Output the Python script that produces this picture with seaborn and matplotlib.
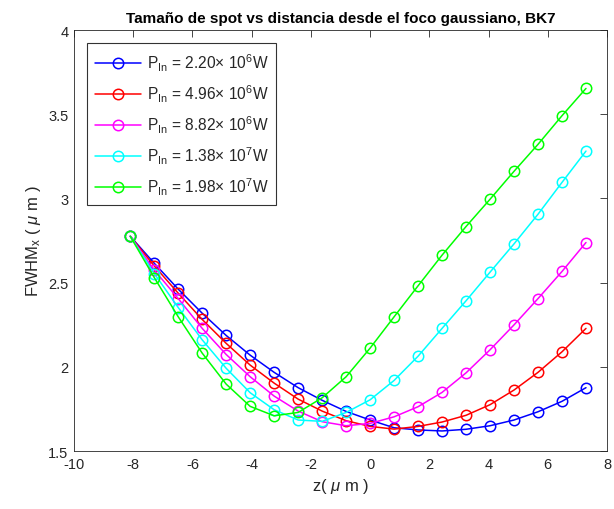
import numpy as np
import pandas as pd
import matplotlib
matplotlib.use("Agg")
import matplotlib.pyplot as plt
import seaborn as sns

z = [-8.1, -7.29, -6.48, -5.67, -4.86, -4.05, -3.24, -2.43, -1.62, -0.81,
     0.0, 0.81, 1.62, 2.43, 3.24, 4.05, 4.86, 5.67, 6.48, 7.29]

fwhm_p1 = [2.775, 2.615, 2.461, 2.318, 2.186, 2.069, 1.967, 1.876, 1.801, 1.735,
           1.684, 1.638, 1.625, 1.619, 1.629, 1.650, 1.684, 1.733, 1.795, 1.876]
fwhm_p2 = [2.775, 2.599, 2.437, 2.281, 2.139, 2.010, 1.903, 1.808, 1.737, 1.680,
           1.646, 1.630, 1.646, 1.672, 1.712, 1.775, 1.862, 1.967, 2.089, 2.228]
fwhm_p3 = [2.775, 2.575, 2.405, 2.228, 2.073, 1.941, 1.826, 1.737, 1.674, 1.650,
           1.664, 1.703, 1.763, 1.848, 1.964, 2.101, 2.249, 2.405, 2.566, 2.738]
fwhm_p4 = [2.775, 2.554, 2.352, 2.160, 1.991, 1.846, 1.745, 1.684, 1.676, 1.729,
           1.804, 1.919, 2.063, 2.228, 2.392, 2.562, 2.730, 2.906, 3.095, 3.281]
fwhm_p5 = [2.775, 2.530, 2.297, 2.081, 1.897, 1.765, 1.709, 1.729, 1.816, 1.941,
           2.111, 2.297, 2.481, 2.663, 2.833, 2.995, 3.161, 3.321, 3.491, 3.653]

labels = [r'P$_{\mathrm{In}}$ = 2.20$\times$ 10$^{6}$W',
          r'P$_{\mathrm{In}}$ = 4.96$\times$ 10$^{6}$W',
          r'P$_{\mathrm{In}}$ = 8.82$\times$ 10$^{6}$W',
          r'P$_{\mathrm{In}}$ = 1.38$\times$ 10$^{7}$W',
          r'P$_{\mathrm{In}}$ = 1.98$\times$ 10$^{7}$W']
colors = ['#0000ff', '#ff0000', '#ff00ff', '#00ffff', '#00ff00']
series = [fwhm_p1, fwhm_p2, fwhm_p3, fwhm_p4, fwhm_p5]

sns.set_style("white")
plt.rcParams['font.family'] = ['Liberation Sans', 'DejaVu Sans']
plt.rcParams['mathtext.fontset'] = 'custom'
plt.rcParams['mathtext.rm'] = 'Liberation Sans'
plt.rcParams['mathtext.it'] = 'Liberation Sans:italic'
plt.rcParams['axes.unicode_minus'] = False

fig = plt.figure(figsize=(6.14, 5.10), dpi=100)
ax = fig.add_axes([74/614, 58/510, (607-74)/614, (452-31)/510])

for lab, col, vals in zip(labels, colors, series):
    df = pd.DataFrame({'z': z, 'fwhm': vals})
    sns.lineplot(data=df, x='z', y='fwhm', ax=ax, color=col, label=lab,
                 marker='o', markersize=7.5, markerfacecolor='none',
                 markeredgecolor=col, markeredgewidth=1.1, linewidth=1.1,
                 sort=False, estimator=None)

ax.set_xlim(-10, 8)
ax.set_ylim(1.5, 4)
ax.set_xticks(np.arange(-10, 9, 2))
ax.set_yticks([1.5, 2, 2.5, 3, 3.5, 4])
ax.set_yticklabels(['1.5', '2', '2.5', '3', '3.5', '4'])
ax.tick_params(direction='in', length=5, width=0.6, top=True, right=True,
               labelsize=10.5, colors='#262626', labelcolor='#262626', pad=4)
for s in ax.spines.values():
    s.set_color('#262626')
    s.set_linewidth(0.6)

ax.set_xlabel(r'z( $\mu$ m )', fontsize=12, color='#262626')
ax.set_ylabel(r'FWHM$_{\mathrm{x}}$ ( $\mu$ m )', fontsize=12, color='#262626')
ax.set_title('Tamaño de spot vs distancia desde el foco gaussiano, BK7',
             fontsize=11, fontweight='bold', color='black', pad=6)

leg = ax.legend(loc='upper left', bbox_to_anchor=(0.024, 0.968), fontsize=11.2,
                frameon=True, fancybox=False, edgecolor='black',
                handlelength=3.0, borderpad=0.5, labelspacing=0.62,
                handletextpad=0.35, borderaxespad=0)
leg.get_frame().set_linewidth(0.8)

fig.savefig('out.png', dpi=100, facecolor='white')
